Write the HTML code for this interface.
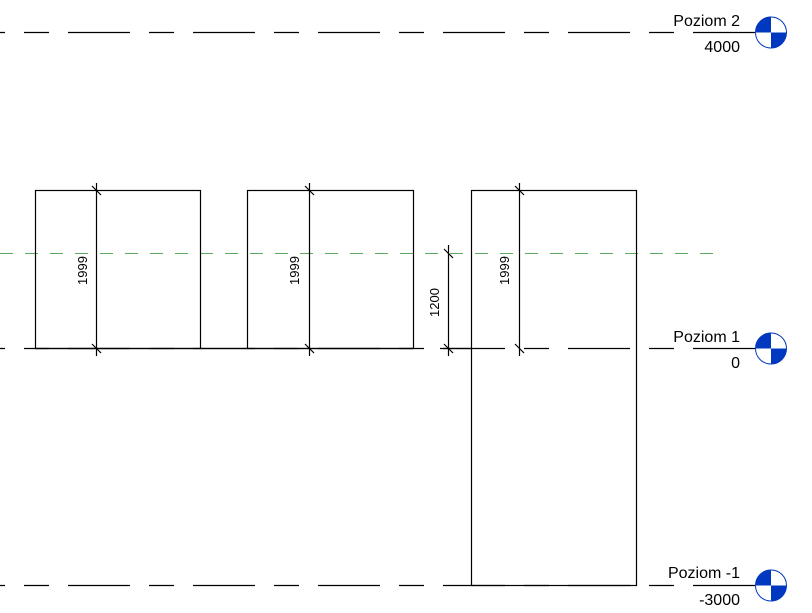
<!DOCTYPE html>
<html><head><meta charset="utf-8"><style>
html,body{margin:0;padding:0;background:#fff;}
svg{display:block;}
text{font-family:"Liberation Sans",sans-serif;fill:#000;}
</style></head><body>
<svg width="812" height="613" viewBox="0 0 812 613" xmlns="http://www.w3.org/2000/svg">
<g stroke="#000" stroke-width="1.2" fill="none">
<line x1="0" y1="32.5" x2="757" y2="32.5" stroke-dasharray="62 19 25 19" stroke-dashoffset="57"/>
<line x1="0" y1="348.5" x2="757" y2="348.5" stroke-dasharray="62 19 25 19" stroke-dashoffset="57"/>
<line x1="0" y1="585.5" x2="757" y2="585.5" stroke-dasharray="62 19 25 19" stroke-dashoffset="57"/>
<line x1="0" y1="253.5" x2="722" y2="253.5" stroke="#2a8a2a" stroke-width="0.8" stroke-dasharray="13 12"/>
<rect x="35.5" y="190.5" width="165" height="158"/>
<rect x="247.5" y="190.5" width="166" height="158"/>
<rect x="471.5" y="190.5" width="165" height="395"/>
<line x1="35" y1="348.5" x2="413" y2="348.5"/>
<line x1="96.5" y1="183" x2="96.5" y2="356"/>
<line x1="309.5" y1="183" x2="309.5" y2="356"/>
<line x1="519.5" y1="183" x2="519.5" y2="356"/>
<line x1="448.5" y1="245" x2="448.5" y2="356"/>
<line x1="440" y1="348.5" x2="471" y2="348.5"/>
<path d="M92 186 l9 9 M92 344 l9 9 M305 186 l9 9 M305 344 l9 9 M515 186 l9 9 M515 344 l9 9 M444 249 l9 9 M444 344 l9 9"/>
</g>
<g font-size="13">
<text transform="translate(87,285) rotate(-90)">1999</text>
<text transform="translate(299,285) rotate(-90)">1999</text>
<text transform="translate(509,285) rotate(-90)">1999</text>
<text transform="translate(439,317) rotate(-90)">1200</text>
</g>
<g font-size="16" text-anchor="end">
<text x="740" y="26">Poziom 2</text>
<text x="740" y="52">4000</text>
<text x="740" y="342">Poziom 1</text>
<text x="740" y="368">0</text>
<text x="740" y="578">Poziom -1</text>
<text x="740" y="605">-3000</text>
</g>
<g>
<g transform="translate(771,32.5)"><circle r="15.5" fill="#fff" stroke="#0038c0" stroke-width="1"/><path d="M0 0 L-15.5 0 A15.5 15.5 0 0 1 0 -15.5 Z M0 0 L15.5 0 A15.5 15.5 0 0 1 0 15.5 Z" fill="#0038c0"/></g>
<g transform="translate(771,348.5)"><circle r="15.5" fill="#fff" stroke="#0038c0" stroke-width="1"/><path d="M0 0 L-15.5 0 A15.5 15.5 0 0 1 0 -15.5 Z M0 0 L15.5 0 A15.5 15.5 0 0 1 0 15.5 Z" fill="#0038c0"/></g>
<g transform="translate(771,585.5)"><circle r="15.5" fill="#fff" stroke="#0038c0" stroke-width="1"/><path d="M0 0 L-15.5 0 A15.5 15.5 0 0 1 0 -15.5 Z M0 0 L15.5 0 A15.5 15.5 0 0 1 0 15.5 Z" fill="#0038c0"/></g>
</g>
</svg>
</body></html>
